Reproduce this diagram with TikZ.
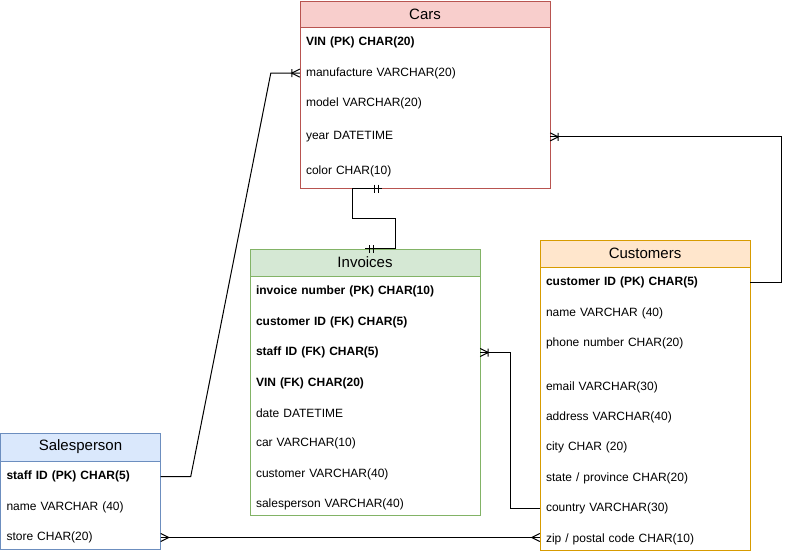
\documentclass[tikz,border=0pt]{standalone}
\usepackage{fontspec}
\setmainfont{Liberation Sans}
\usepackage{xcolor}
\usetikzlibrary{positioning,calc,arrows.meta}

\definecolor{carsfill}{HTML}{F8CECC}
\definecolor{carsline}{HTML}{B85450}
\definecolor{invfill}{HTML}{D5E8D4}
\definecolor{invline}{HTML}{82B366}
\definecolor{custfill}{HTML}{FFE6CC}
\definecolor{custline}{HTML}{D79B00}
\definecolor{spfill}{HTML}{DAE8FC}
\definecolor{spline}{HTML}{6C8EBF}

% crow's foot ends
\pgfdeclarearrow{
  name = many,
  setup code = {
    \pgfarrowssettipend{0pt}
    \pgfarrowssetlineend{0pt}
    \pgfarrowssetbackend{-8pt}
    \pgfarrowssetvisualbackend{-8pt}
    \pgfarrowshullpoint{0pt}{4pt}
    \pgfarrowshullpoint{0pt}{-4pt}
    \pgfarrowshullpoint{-8pt}{0pt}
  },
  drawing code = {
    \pgfpathmoveto{\pgfqpoint{0pt}{4pt}}
    \pgfpathlineto{\pgfqpoint{-8pt}{0pt}}
    \pgfpathlineto{\pgfqpoint{0pt}{-4pt}}
    \pgfusepathqstroke
  }
}
\pgfdeclarearrow{
  name = onemany,
  setup code = {
    \pgfarrowssettipend{0pt}
    \pgfarrowssetlineend{0pt}
    \pgfarrowssetbackend{-8pt}
    \pgfarrowssetvisualbackend{-8pt}
    \pgfarrowshullpoint{0pt}{4pt}
    \pgfarrowshullpoint{0pt}{-4pt}
    \pgfarrowshullpoint{-8pt}{4pt}
    \pgfarrowshullpoint{-8pt}{-4pt}
  },
  drawing code = {
    \pgfpathmoveto{\pgfqpoint{0pt}{4pt}}
    \pgfpathlineto{\pgfqpoint{-8pt}{0pt}}
    \pgfpathlineto{\pgfqpoint{0pt}{-4pt}}
    \pgfpathmoveto{\pgfqpoint{-8pt}{4pt}}
    \pgfpathlineto{\pgfqpoint{-8pt}{-4pt}}
    \pgfusepathqstroke
  }
}
\pgfdeclarearrow{
  name = oneone,
  setup code = {
    \pgfarrowssettipend{0pt}
    \pgfarrowssetlineend{0pt}
    \pgfarrowssetbackend{-8pt}
    \pgfarrowssetvisualbackend{-8pt}
    \pgfarrowshullpoint{-4pt}{4pt}
    \pgfarrowshullpoint{-4pt}{-4pt}
    \pgfarrowshullpoint{-8pt}{4pt}
    \pgfarrowshullpoint{-8pt}{-4pt}
  },
  drawing code = {
    \pgfpathmoveto{\pgfqpoint{-4pt}{4pt}}
    \pgfpathlineto{\pgfqpoint{-4pt}{-4pt}}
    \pgfpathmoveto{\pgfqpoint{-8pt}{4pt}}
    \pgfpathlineto{\pgfqpoint{-8pt}{-4pt}}
    \pgfusepathqstroke
  }
}

\tikzset{
  table/.style={draw=#1, line width=1pt, inner sep=0pt},
  head/.style 2 args={draw=#2, fill=#1, line width=1pt, inner sep=0pt,
                      font=\fontsize{15}{18}\selectfont},
  row/.style={text width=#1, inner xsep=6pt, inner ysep=0pt,
              minimum height=30pt, align=left,
              font=\fontsize{12}{14}\selectfont},
  link/.style={draw=black, line width=1pt}
}

\begin{document}
\begin{tikzpicture}[x=1pt,y=-1pt]
  \fill[white] (0,0) rectangle (792,554);
  \useasboundingbox (0,0) rectangle (792,554);

  % Cars
  \node[table=carsline, minimum width=250, minimum height=187] (cars) at (425,94.5) {};
  \node[head={carsfill}{carsline}, minimum width=250, minimum height=26, anchor=north]
       (cars-head) at (cars.north) {Cars};
  \node[row=238pt, below=0pt of cars-head] (cars-vin)  {\textbf{VIN (PK) CHAR(20)}};
  \node[row=238pt, below=0pt of cars-vin]  (cars-manu) {manufacture VARCHAR(20)};
  \node[row=238pt, below=0pt of cars-manu] (cars-model) {model VARCHAR(20)};
  \node[row=238pt, below=3pt of cars-model] (cars-year) {year DATETIME};
  \node[row=238pt, below=4pt of cars-year] (cars-color) {color CHAR(10)};

  % Invoices
  \node[table=invline, minimum width=230, minimum height=266] (inv) at (365,382) {};
  \node[head={invfill}{invline}, minimum width=230, minimum height=27, anchor=north]
       (inv-head) at (inv.north) {Invoices};
  \node[row=218pt, below=0pt of inv-head]  (inv-num)   {\textbf{invoice number (PK) CHAR(10)}};
  \node[row=218pt, below=0pt of inv-num]   (inv-cust)  {\textbf{customer ID (FK) CHAR(5)}};
  \node[row=218pt, below=0pt of inv-cust]  (inv-staff) {\textbf{staff ID (FK) CHAR(5)}};
  \node[row=218pt, below=0pt of inv-staff] (inv-vin)   {\textbf{VIN (FK) CHAR(20)}};
  \node[row=218pt, below=0pt of inv-vin]   (inv-date)  {date DATETIME};
  \node[row=218pt, below=0pt of inv-date]  (inv-car)   {car VARCHAR(10)};
  \node[row=218pt, below=0pt of inv-car]   (inv-custname) {customer VARCHAR(40)};
  \node[row=218pt, below=0pt of inv-custname] (inv-sales) {salesperson VARCHAR(40)};

  % Customers
  \node[table=custline, minimum width=210, minimum height=310] (cust) at (645,395) {};
  \node[head={custfill}{custline}, minimum width=210, minimum height=27, anchor=north]
       (cust-head) at (cust.north) {Customers};
  \node[row=198pt, below=0pt of cust-head]  (cust-id)    {\textbf{customer ID (PK) CHAR(5)}};
  \node[row=198pt, below=0pt of cust-id]    (cust-name)  {name VARCHAR (40)};
  \node[row=198pt, below=0pt of cust-name]  (cust-phone) {phone number CHAR(20)};
  \node[row=198pt, below=13pt of cust-phone] (cust-email) {email VARCHAR(30)};
  \node[row=198pt, below=0pt of cust-email] (cust-addr)  {address VARCHAR(40)};
  \node[row=198pt, below=0pt of cust-addr]  (cust-city)  {city CHAR (20)};
  \node[row=198pt, below=0pt of cust-city]  (cust-state) {state / province CHAR(20)};
  \node[row=198pt, below=0pt of cust-state] (cust-country) {country VARCHAR(30)};
  \node[row=198pt, below=0pt of cust-country] (cust-zip) {zip / postal code CHAR(10)};

  % Salesperson
  \node[table=spline, minimum width=160, minimum height=116] (sp) at (80.5,491) {};
  \node[head={spfill}{spline}, minimum width=160, minimum height=28, anchor=north]
       (sp-head) at (sp.north) {Salesperson};
  \node[row=148pt, below=0pt of sp-head]  (sp-staff) {\textbf{staff ID (PK) CHAR(5)}};
  \node[row=148pt, below=0pt of sp-staff] (sp-name)  {name VARCHAR (40)};
  \node[row=148pt, below=0pt of sp-name]  (sp-store) {store CHAR(20)};

  % relations
  \draw[link, -onemany] (sp-staff.east) -- ++(30,0)
       -- ($(cars-manu.west)+(-29,0)$) -- (cars-manu.west);
  \draw[link, oneone-oneone] ($(cars.south)+(-43,0)$) -- ++(-30,0) -- ++(0,30)
       -- ++(43,0) |- (inv.north);
  \draw[link, -onemany] (cust-id.east) -- ++(31,0) |- (cars-year.east);
  \draw[link, -onemany] (cust-country.west) -- ++(-29,0) |- (inv-staff.east);
  \draw[link, many-many] (sp-store.east) -- (sp-store.east -| cust-zip.west);
\end{tikzpicture}
\end{document}
